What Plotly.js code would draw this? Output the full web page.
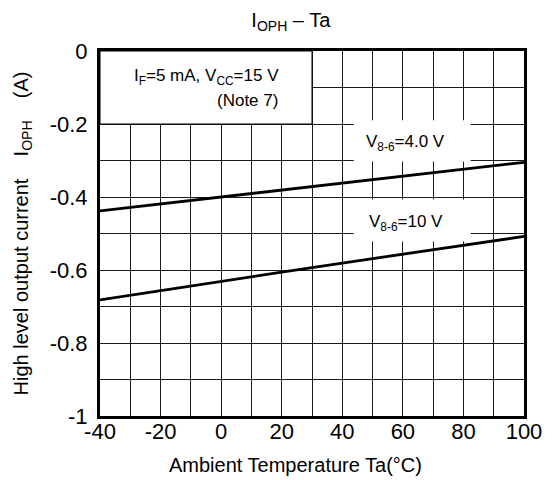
<!DOCTYPE html>
<html><head><meta charset="utf-8">
<script src="https://cdn.plot.ly/plotly-3.0.1.min.js"></script>
<style>html,body{margin:0;padding:0;background:#fff}</style>
</head><body>
<div id="chart" style="width:555px;height:480px"></div>
<script>
// Data
const temperatures = [-40, -20, 0, 20, 40, 60, 80, 100];
const iophV86_4V  = [-0.438, -0.419, -0.400, -0.381, -0.362, -0.343, -0.324, -0.305];
const iophV86_10V = [-0.682, -0.656, -0.631, -0.606, -0.581, -0.556, -0.532, -0.508];

const xTickVals = [-40, -20, 0, 20, 40, 60, 80, 100];
const xTickText = ["-40", "-20", "0", "20", "40", "60", "80", "100"];
const yTickVals = [0, -0.2, -0.4, -0.6, -0.8, -1];
const yTickText = ["0", "-0.2", "-0.4", "-0.6", "-0.8", "-1"];

const seriesNames = ["V<sub>8-6</sub>=4.0 V", "V<sub>8-6</sub>=10 V"];
const conditionText = "I<sub>F</sub>=5 mA, V<sub>CC</sub>=15 V";
const noteText = "(Note 7)";
const xTitleText = "Ambient Temperature Ta(°C)";

const FONT = "Liberation Sans, Arial, Helvetica, sans-serif";
const NB = "\u00a0";

const traces = [
  {x: temperatures, y: iophV86_4V, name: seriesNames[0], mode: "lines",
   line: {color: "#000", width: 2.8}, showlegend: false, hoverinfo: "x+y"},
  {x: temperatures, y: iophV86_10V, name: seriesNames[1], mode: "lines",
   line: {color: "#000", width: 2.8}, showlegend: false, hoverinfo: "x+y"}
];

const gridColor = "#1a1a1a";

const layout = {
  width: 555, height: 480,
  margin: {l: 100, r: 31, t: 51, b: 64, pad: 0},
  paper_bgcolor: "#fff", plot_bgcolor: "#fff",
  font: {family: FONT, color: "#000"},
  title: {text: "I<sub>OPH</sub> – Ta", font: {family: FONT, size: 20, color: "#000"},
          xref: "container", yref: "container", x: 0.524, y: 0.958,
          xanchor: "center", yanchor: "middle"},
  xaxis: {
    range: [-40, 100], tickmode: "array", tickvals: xTickVals, ticktext: xTickText,
    tickfont: {family: FONT, size: 22, color: "#000"},
    showgrid: true, gridcolor: gridColor, gridwidth: 1,
    minor: {dtick: 10, tick0: 0, showgrid: true, gridcolor: gridColor, gridwidth: 1},
    showline: true, linecolor: "#000", linewidth: 3, mirror: true,
    ticks: "", zeroline: false, fixedrange: true, ticklabelstandoff: -6
  },
  yaxis: {
    range: [-1, 0], tickmode: "array", tickvals: yTickVals, ticktext: yTickText,
    tickfont: {family: FONT, size: 22, color: "#000"},
    showgrid: true, gridcolor: gridColor, gridwidth: 1,
    minor: {dtick: 0.1, tick0: 0, showgrid: true, gridcolor: gridColor, gridwidth: 1},
    showline: true, linecolor: "#000", linewidth: 3, mirror: true,
    ticks: "", zeroline: false, fixedrange: true, ticklabelstandoff: 5,
    title: {text: "High level output current" + NB.repeat(4) + "I<sub>OPH</sub>" + NB.repeat(4) + "(A)",
            font: {family: FONT, size: 20, color: "#000"}, standoff: 16}
  },
  shapes: [
    // condition box in upper-left corner
    {type: "rect", xref: "x", yref: "y", x0: -40, x1: 30, y0: -0.2, y1: 0,
     fillcolor: "#fff", line: {color: "#000", width: 1}, layer: "between"},
    // white backgrounds behind curve labels
    {type: "rect", xref: "x", yref: "y", x0: 43.8, x1: 82.4, y0: -0.303, y1: -0.19,
     fillcolor: "#fff", line: {width: 0}, layer: "between"},
    {type: "rect", xref: "x", yref: "y", x0: 43.8, x1: 82.4, y0: -0.522, y1: -0.407,
     fillcolor: "#fff", line: {width: 0}, layer: "between"}
  ],
  annotations: [
    {xref: "paper", yref: "paper", x: 0.461, y: -0.134, text: xTitleText, showarrow: false,
     xanchor: "center", yanchor: "middle", font: {family: FONT, size: 20, color: "#000"}},
    {xref: "x", yref: "y", x: -29.5, y: -0.07, text: conditionText, showarrow: false,
     xanchor: "left", yanchor: "middle", font: {family: FONT, size: 17, color: "#000"}},
    {xref: "x", yref: "y", x: 19.5, y: -0.135, text: noteText, showarrow: false,
     xanchor: "right", yanchor: "middle", font: {family: FONT, size: 17, color: "#000"}},
    {xref: "x", yref: "y", x: 61, y: -0.252, text: seriesNames[0], showarrow: false,
     xanchor: "center", yanchor: "middle", font: {family: FONT, size: 17, color: "#000"}},
    {xref: "x", yref: "y", x: 61, y: -0.472, text: seriesNames[1], showarrow: false,
     xanchor: "center", yanchor: "middle", font: {family: FONT, size: 17, color: "#000"}}
  ]
};

Plotly.newPlot("chart", traces, layout, {displayModeBar: false, staticPlot: true});
</script>
</body></html>
